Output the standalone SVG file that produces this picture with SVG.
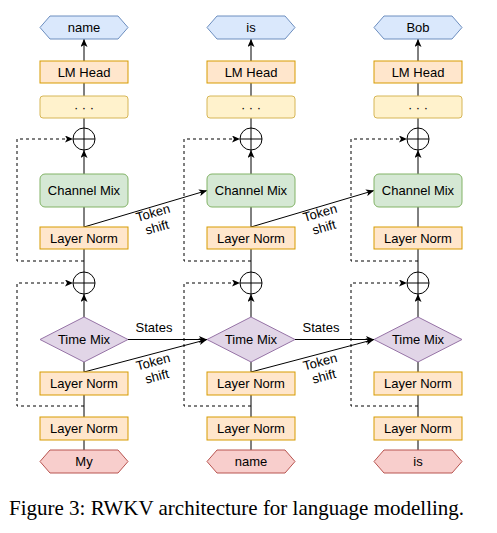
<svg xmlns="http://www.w3.org/2000/svg" width="497" height="533" viewBox="0 0 497 533">
<style>
text{font-family:"Liberation Sans",Arial,sans-serif;font-size:13px;fill:#000;text-anchor:middle}
.out{fill:#dae8fc;stroke:#6c8ebf}
.inp{fill:#f8cecc;stroke:#b85450}
.org{fill:#ffe6cc;stroke:#d79b00}
.yel{fill:#fff2cc;stroke:#d6b656}
.grn{fill:#d5e8d4;stroke:#82b366}
.pur{fill:#e1d5e7;stroke:#9673a6}
.add{fill:#fff;stroke:#000}
.ln{fill:none;stroke:#000;stroke-width:1}
.arr{fill:none;stroke:#000;stroke-width:1;marker-end:url(#ah)}
.dash{fill:none;stroke:#000;stroke-width:1;stroke-dasharray:3 3;marker-end:url(#ah)}
.cap{font-family:"Liberation Serif","Times New Roman",serif;font-size:21px;text-anchor:start}
</style>
<defs>
<marker id="ah" viewBox="0 0 8 7" refX="8" refY="3.5" markerWidth="8" markerHeight="7" markerUnits="userSpaceOnUse" orient="auto">
<path d="M0,0 L8,3.5 L0,7 L2,3.5 Z" fill="#000"/>
</marker>
</defs>
<rect width="497" height="533" fill="#fff"/>

<g id="connectors">
<!-- column 1 -->
<path class="arr" d="M84,61 V39"/>
<path class="ln" d="M84,83 V96 M84,118 V128"/>
<path class="arr" d="M84,174 V150"/>
<path class="ln" d="M84,227 V207 M84,249 V272"/>
<path class="arr" d="M84,317 V294"/>
<path class="ln" d="M84,372 V362 M84,395 V417 M84,440 V450"/>
<path class="dash" d="M84,261 H17 V139 H73"/>
<path class="dash" d="M84,406 H17 V283 H73"/>
<!-- column 2 -->
<path class="arr" d="M251,61 V39"/>
<path class="ln" d="M251,83 V96 M251,118 V128"/>
<path class="arr" d="M251,174 V150"/>
<path class="ln" d="M251,227 V207 M251,249 V272"/>
<path class="arr" d="M251,317 V294"/>
<path class="ln" d="M251,372 V362 M251,395 V417 M251,440 V450"/>
<path class="dash" d="M251,261 H184 V139 H240"/>
<path class="dash" d="M251,406 H184 V283 H240"/>
<!-- column 3 -->
<path class="arr" d="M418,61 V39"/>
<path class="ln" d="M418,83 V96 M418,118 V128"/>
<path class="arr" d="M418,174 V150"/>
<path class="ln" d="M418,227 V207 M418,249 V272"/>
<path class="arr" d="M418,317 V294"/>
<path class="ln" d="M418,372 V362 M418,395 V417 M418,440 V450"/>
<path class="dash" d="M418,261 H351 V139 H407"/>
<path class="dash" d="M418,406 H351 V283 H407"/>
<!-- cross-column -->
<path class="arr" d="M84,227 L207,190.5"/>
<path class="arr" d="M251,227 L374,190.5"/>
<path class="arr" d="M128,339.5 H207"/>
<path class="arr" d="M295,339.5 H374"/>
<path class="arr" d="M84,372 L207,339.5"/>
<path class="arr" d="M251,372 L374,339.5"/>
<text x="154" y="332">States</text>
<text x="321" y="332">States</text>
<g transform="translate(155,220) rotate(-16)"><text y="-3">Token</text><text y="12">shift</text></g>
<g transform="translate(322,220) rotate(-16)"><text y="-3">Token</text><text y="12">shift</text></g>
<g transform="translate(155,369) rotate(-15)"><text y="-3">Token</text><text y="12">shift</text></g>
<g transform="translate(322,369) rotate(-15)"><text y="-3">Token</text><text y="12">shift</text></g>
</g>

<!-- column 1 nodes -->
<g id="out1"><polygon class="out" points="40,27.5 50,16 118,16 128,27.5 118,39 50,39"/><text x="84" y="32">name</text></g>
<g id="head1"><rect class="org" x="40" y="61" width="88" height="22"/><text x="84" y="76.5">LM Head</text></g>
<g id="dots1"><rect class="yel" x="40" y="96" width="88" height="22" rx="3"/><text x="84" y="111.5">· · ·</text></g>
<g id="add1a"><circle class="add" cx="84" cy="139" r="11"/><path class="ln" d="M73,139 H95 M84,128 V150"/></g>
<g id="cmix1"><rect class="grn" x="40" y="174" width="88" height="33" rx="5"/><text x="84" y="195">Channel Mix</text></g>
<g id="lnc1"><rect class="org" x="40" y="227" width="88" height="22"/><text x="84" y="242.5">Layer Norm</text></g>
<g id="add1b"><circle class="add" cx="84" cy="283" r="11"/><path class="ln" d="M73,283 H95 M84,272 V294"/></g>
<g id="tmix1"><polygon class="pur" points="84,317 128,339.5 84,362 40,339.5"/><text x="84" y="344">Time Mix</text></g>
<g id="lnt1"><rect class="org" x="40" y="372" width="88" height="23"/><text x="84" y="388">Layer Norm</text></g>
<g id="ln01"><rect class="org" x="40" y="417" width="88" height="23"/><text x="84" y="433">Layer Norm</text></g>
<g id="in1"><polygon class="inp" points="40,461.5 50,450 118,450 128,461.5 118,473 50,473"/><text x="84" y="466">My</text></g>

<!-- column 2 nodes -->
<g id="out2"><polygon class="out" points="207,27.5 217,16 285,16 295,27.5 285,39 217,39"/><text x="251" y="32">is</text></g>
<g id="head2"><rect class="org" x="207" y="61" width="88" height="22"/><text x="251" y="76.5">LM Head</text></g>
<g id="dots2"><rect class="yel" x="207" y="96" width="88" height="22" rx="3"/><text x="251" y="111.5">· · ·</text></g>
<g id="add2a"><circle class="add" cx="251" cy="139" r="11"/><path class="ln" d="M240,139 H262 M251,128 V150"/></g>
<g id="cmix2"><rect class="grn" x="207" y="174" width="88" height="33" rx="5"/><text x="251" y="195">Channel Mix</text></g>
<g id="lnc2"><rect class="org" x="207" y="227" width="88" height="22"/><text x="251" y="242.5">Layer Norm</text></g>
<g id="add2b"><circle class="add" cx="251" cy="283" r="11"/><path class="ln" d="M240,283 H262 M251,272 V294"/></g>
<g id="tmix2"><polygon class="pur" points="251,317 295,339.5 251,362 207,339.5"/><text x="251" y="344">Time Mix</text></g>
<g id="lnt2"><rect class="org" x="207" y="372" width="88" height="23"/><text x="251" y="388">Layer Norm</text></g>
<g id="ln02"><rect class="org" x="207" y="417" width="88" height="23"/><text x="251" y="433">Layer Norm</text></g>
<g id="in2"><polygon class="inp" points="207,461.5 217,450 285,450 295,461.5 285,473 217,473"/><text x="251" y="466">name</text></g>

<!-- column 3 nodes -->
<g id="out3"><polygon class="out" points="374,27.5 384,16 452,16 462,27.5 452,39 384,39"/><text x="418" y="32">Bob</text></g>
<g id="head3"><rect class="org" x="374" y="61" width="88" height="22"/><text x="418" y="76.5">LM Head</text></g>
<g id="dots3"><rect class="yel" x="374" y="96" width="88" height="22" rx="3"/><text x="418" y="111.5">· · ·</text></g>
<g id="add3a"><circle class="add" cx="418" cy="139" r="11"/><path class="ln" d="M407,139 H429 M418,128 V150"/></g>
<g id="cmix3"><rect class="grn" x="374" y="174" width="88" height="33" rx="5"/><text x="418" y="195">Channel Mix</text></g>
<g id="lnc3"><rect class="org" x="374" y="227" width="88" height="22"/><text x="418" y="242.5">Layer Norm</text></g>
<g id="add3b"><circle class="add" cx="418" cy="283" r="11"/><path class="ln" d="M407,283 H429 M418,272 V294"/></g>
<g id="tmix3"><polygon class="pur" points="418,317 462,339.5 418,362 374,339.5"/><text x="418" y="344">Time Mix</text></g>
<g id="lnt3"><rect class="org" x="374" y="372" width="88" height="23"/><text x="418" y="388">Layer Norm</text></g>
<g id="ln03"><rect class="org" x="374" y="417" width="88" height="23"/><text x="418" y="433">Layer Norm</text></g>
<g id="in3"><polygon class="inp" points="374,461.5 384,450 452,450 462,461.5 452,473 384,473"/><text x="418" y="466">is</text></g>

<text class="cap" x="9" y="515">Figure 3: RWKV architecture for language modelling.</text>
</svg>
